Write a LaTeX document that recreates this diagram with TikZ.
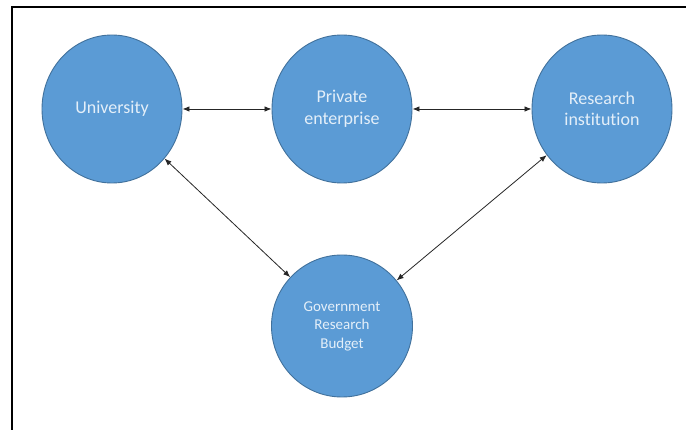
\documentclass[tikz,border=0pt]{standalone}
\usepackage{fontspec}
\setmainfont[Ligatures={NoCommon,NoDiscretionary}]{Carlito}
\usetikzlibrary{shapes.geometric,arrows.meta}
\definecolor{bubblefill}{HTML}{5B9BD5}
\definecolor{bubbleline}{HTML}{41719C}
\definecolor{bubbletext}{HTML}{E4EFF9}
\tikzset{
  bubble/.style={ellipse, draw=bubbleline, line width=0.9pt, fill=bubblefill,
    inner sep=0pt, minimum width=140pt, minimum height=148pt,
    text=bubbletext, align=center, font=\fontsize{18}{21.5}\selectfont},
  smallbubble/.style={bubble, minimum width=141pt, minimum height=142pt,
    font=\fontsize{15}{18.5}\selectfont},
  link/.style={line width=0.8pt, draw=black!85,
    {Latex[length=7pt,width=5.5pt]}-{Latex[length=7pt,width=5.5pt]}},
  frame/.style={line width=2.8pt, draw=black}
}
\begin{document}
\begin{tikzpicture}[x=1pt, y=-1pt]
  \useasboundingbox (0,0) rectangle (686,430);
  \fill[white] (0,0) rectangle (686,430);
  % outer frame (right and bottom edges fall outside the page)
  \draw[frame] (12,440) -- (12,7) -- (700,7);

  \node[bubble] (uni) at (112,109) {University};
  \node[bubble] (pri) at (342,109) {Private\\enterprise};
  \node[bubble] (res) at (602,109) {Research\\institution};
  \node[smallbubble] (gov) at (342,326) {Government\\Research\\Budget};

  \draw[link] (uni) -- (pri);
  \draw[link] (pri) -- (res);
  \draw[link] (uni) -- (gov);
  \draw[link] (res) -- (gov);
\end{tikzpicture}
\end{document}
